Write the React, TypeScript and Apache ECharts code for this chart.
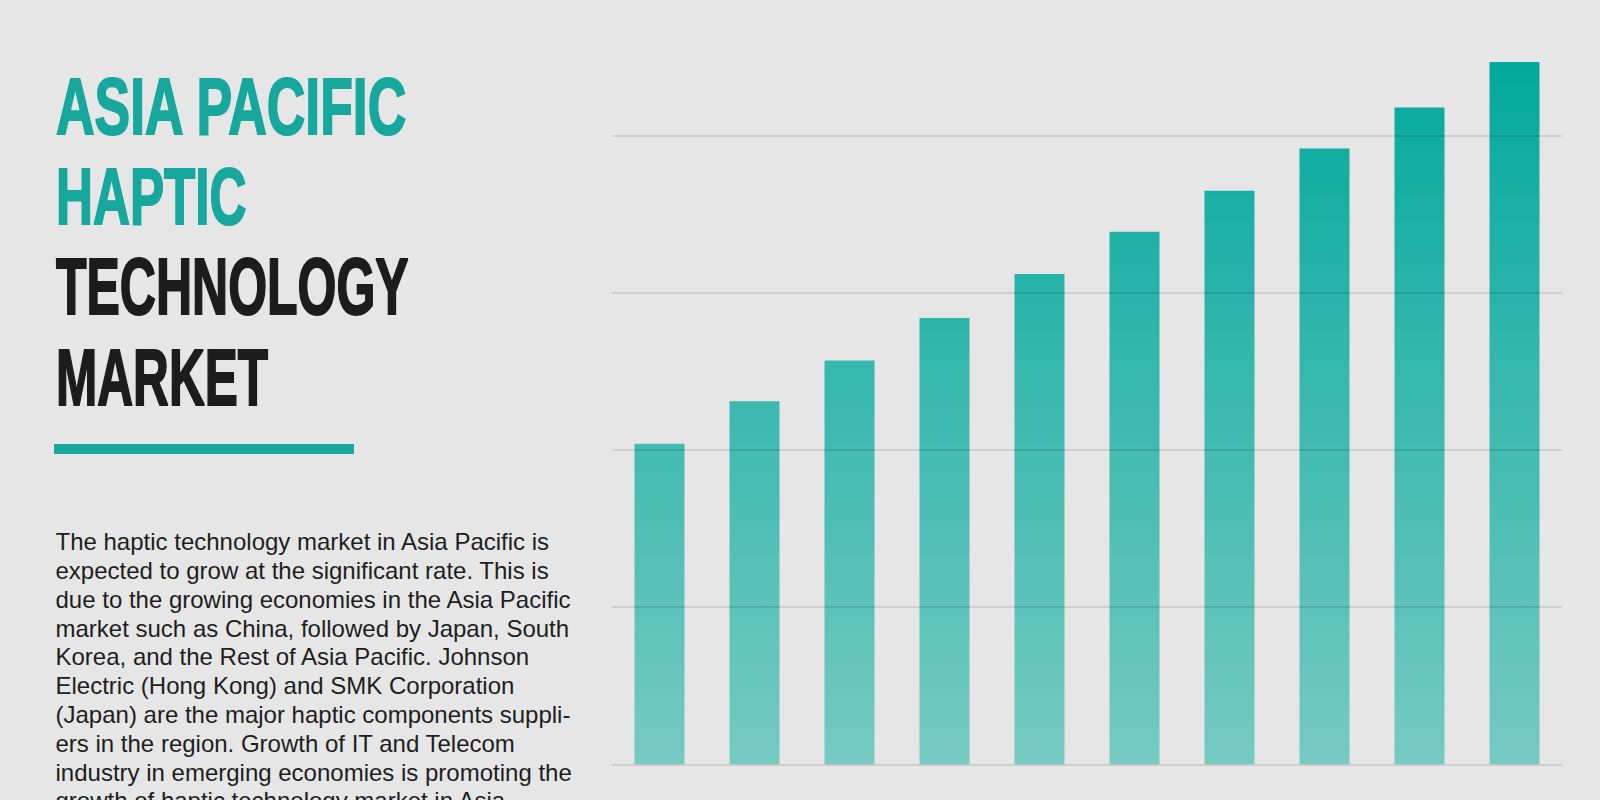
import React, { useEffect, useRef } from "react";
import * as echarts from "echarts";

// forecast years (labels are not shown on the chart)
const years = ["2017", "2018", "2019", "2020", "2021", "2022", "2023", "2024", "2025", "2026"];
const marketSize = [20.4, 23.1, 25.7, 28.4, 31.2, 33.9, 36.5, 39.2, 41.8, 44.7];

const titleTeal = ["ASIA PACIFIC", "HAPTIC"];
const titleDark = ["TECHNOLOGY", "MARKET"];

const paragraph = [
  "The haptic technology market in Asia Pacific is",
  "expected to grow at the significant rate. This is",
  "due to the growing economies in the Asia Pacific",
  "market such as China, followed by Japan, South",
  "Korea, and the Rest of Asia Pacific. Johnson",
  "Electric (Hong Kong) and SMK Corporation",
  "(Japan) are the major haptic components suppli-",
  "ers in the region. Growth of IT and Telecom",
  "industry in emerging economies is promoting the",
  "growth of haptic technology market in Asia",
];

const TEAL = "#17a89d";
const DARK = "#1c1c1c";

export default function App() {
  const chartRef = useRef<HTMLDivElement>(null);

  useEffect(() => {
    document.body.style.margin = "0";
    if (!chartRef.current) return;
    const chart = echarts.init(chartRef.current, undefined, { renderer: "svg" });

    // the original title font is a condensed one, so squash Liberation Sans
    const titleFont = 'bold 80px "Liberation Sans", Arial, sans-serif';
    const squash = [0.668, 0.64, 0.625, 0.62];
    const titleLines = [...titleTeal, ...titleDark].map((t, i) => ({
      type: "text",
      x: 56,
      y: 105.5 + i * 90.5,
      scaleX: squash[i],
      style: {
        text: t,
        font: titleFont,
        fill: i < titleTeal.length ? TEAL : DARK,
        stroke: i < titleTeal.length ? TEAL : DARK,
        lineWidth: 2,
        align: "left",
        verticalAlign: "middle",
      },
    }));

    const option: echarts.EChartsOption = {
      animation: false,
      backgroundColor: "#e6e6e6",
      grid: { left: 612, right: 38, top: 57.3, bottom: 35.7 },
      xAxis: {
        type: "category",
        data: years,
        axisLine: { show: false },
        axisTick: { show: false },
        axisLabel: { show: false },
      },
      yAxis: {
        type: "value",
        min: 0,
        max: 45,
        interval: 10,
        z: 3,
        axisLine: { show: false },
        axisTick: { show: false },
        axisLabel: { show: false },
        splitLine: {
          show: true,
          showMaxLine: false,
          lineStyle: { color: "rgba(0,0,0,0.1)", width: 2 },
        },
      },
      series: [
        {
          type: "bar",
          data: marketSize,
          barWidth: 50,
          itemStyle: {
            color: new echarts.graphic.LinearGradient(
              0, 62, 0, 764,
              [
                { offset: 0, color: "#03a99c" },
                { offset: 1, color: "#76cac2" },
              ],
              true
            ),
          },
        },
      ],
      graphic: [
        ...titleLines,
        {
          type: "rect",
          shape: { x: 54, y: 444, width: 300, height: 10 },
          style: { fill: TEAL },
        },
        {
          type: "text",
          x: 55.5,
          y: 527.3,
          style: {
            text: paragraph.join("\n"),
            font: '24px "Liberation Sans", Arial, sans-serif',
            lineHeight: 28.8,
            fill: "#1e1e1e",
            align: "left",
            verticalAlign: "top",
          },
        },
      ] as any,
    };

    chart.setOption(option);
    return () => chart.dispose();
  }, []);

  return <div ref={chartRef} style={{ width: 1600, height: 800 }} />;
}
